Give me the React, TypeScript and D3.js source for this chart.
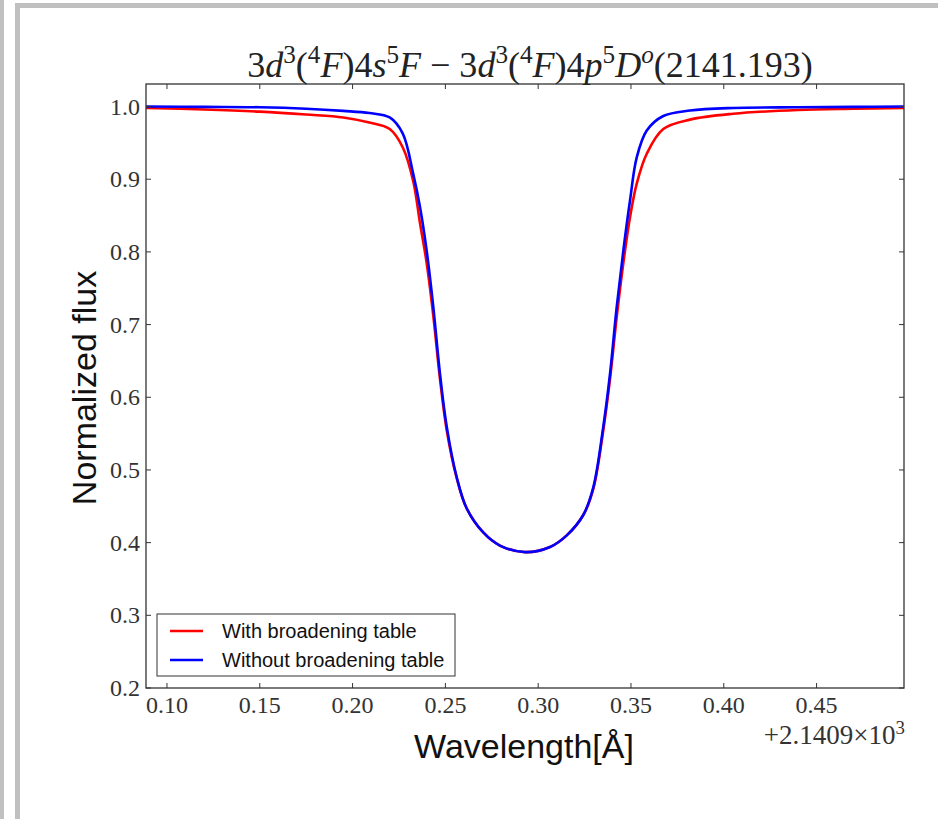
import React from "react";
import * as d3 from "d3";

const wavelength = [
  0.0887, 0.12, 0.15, 0.175, 0.195, 0.209, 0.22, 0.227, 0.2327, 0.2363, 0.2399, 0.2435, 0.2471,
  0.2507, 0.2561, 0.2615, 0.2704, 0.2794, 0.2929, 0.3064, 0.3154, 0.3243, 0.3297, 0.3351, 0.3387,
  0.3423, 0.3459, 0.3495, 0.3531, 0.3585, 0.3674, 0.3818, 0.405, 0.44, 0.47, 0.4971,
];
const fluxWith = [
  0.998, 0.996, 0.993, 0.989, 0.985, 0.978, 0.969, 0.944, 0.897, 0.84, 0.785, 0.712, 0.625,
  0.555, 0.489, 0.447, 0.414, 0.396, 0.387, 0.394, 0.41, 0.438, 0.474, 0.555, 0.625,
  0.71, 0.785, 0.848, 0.894, 0.935, 0.969, 0.982, 0.99, 0.9953, 0.997, 0.998,
];
const fluxWithout = [
  1.0, 0.9995, 0.999, 0.997, 0.994, 0.991, 0.985, 0.963, 0.907, 0.862, 0.802, 0.724, 0.632,
  0.56, 0.49, 0.447, 0.414, 0.396, 0.387, 0.394, 0.41, 0.438, 0.476, 0.56, 0.632,
  0.724, 0.802, 0.871, 0.93, 0.967, 0.987, 0.9945, 0.998, 0.999, 0.9995, 1.0,
];
const xTicks = [0.1, 0.15, 0.2, 0.25, 0.3, 0.35, 0.4, 0.45];
const yTicks = [0.2, 0.3, 0.4, 0.5, 0.6, 0.7, 0.8, 0.9, 1.0];
const seriesNames = ["With broadening table", "Without broadening table"];
const seriesColors = ["#ff0000", "#0000ff"];

type Seg = { t: string; it?: boolean; sup?: boolean };
const titleSegs: Seg[] = [
  { t: "3" }, { t: "d", it: true }, { t: "3", sup: true }, { t: "(" }, { t: "4", sup: true },
  { t: "F", it: true }, { t: ")4" }, { t: "s", it: true }, { t: "5", sup: true }, { t: "F", it: true },
  { t: " \u2212 3" }, { t: "d", it: true }, { t: "3", sup: true }, { t: "(" }, { t: "4", sup: true },
  { t: "F", it: true }, { t: ")4" }, { t: "p", it: true }, { t: "5", sup: true }, { t: "D", it: true },
  { t: "o", it: true, sup: true }, { t: "(2141.193)" },
];

const W = 938, H = 819;
const L = 146, R = 904, T = 84, B = 688;
const serif = "'Liberation Serif', 'DejaVu Serif', serif";
const sans = "'Liberation Sans', Arial, sans-serif";

function renderSegs(segs: Seg[], fs: number) {
  const out: React.ReactNode[] = [];
  let up = false;
  const shift = fs * 0.38;
  segs.forEach((s, i) => {
    let dy = 0;
    if (s.sup && !up) { dy = -shift; up = true; }
    else if (!s.sup && up) { dy = shift; up = false; }
    out.push(
      <tspan key={i} dy={dy} fontStyle={s.it ? "italic" : "normal"} fontSize={s.sup ? fs * 0.7 : fs}>
        {s.t}
      </tspan>
    );
  });
  return out;
}

export default function App() {
  const x = d3.scaleLinear().domain([0.0887, 0.4971]).range([L, R]);
  const y = d3.scaleLinear().domain([0.2, 1.031]).range([B, T]);
  const line = d3
    .line<[number, number]>()
    .x((d) => x(d[0]))
    .y((d) => y(d[1]))
    .curve(d3.curveCatmullRom.alpha(0.5));
  const series = [fluxWith, fluxWithout].map((f) => wavelength.map((w, i) => [w, f[i]] as [number, number]));
  const tickLen = 5;
  const fmt = d3.format(".2f");
  const fmtY = d3.format(".1f");
  const tfs = 24;

  return (
    <svg width={W} height={H} style={{ position: "absolute", left: 0, top: 0, background: "#fff" }}>
      <rect x={0} y={0} width={W} height={H} fill="#fff" />
      {/* outer card frame */}
      <rect x={0} y={0} width={4} height={H} fill="#c0c0c0" />
      <rect x={15} y={3} width={5} height={H} fill="#c0c0c0" />
      <rect x={15} y={3} width={W} height={5} fill="#c0c0c0" />

      <defs>
        <clipPath id="plotclip">
          <rect x={L} y={T} width={R - L} height={B - T} />
        </clipPath>
      </defs>

      <g clipPath="url(#plotclip)">
        {series.map((s, i) => (
          <path key={i} d={line(s) || ""} fill="none" stroke={seriesColors[i]} strokeWidth={2.6} strokeLinejoin="round" />
        ))}
      </g>

      {/* ticks */}
      {xTicks.map((t) => (
        <g key={"x" + t}>
          <line x1={x(t)} x2={x(t)} y1={B} y2={B - tickLen} stroke="#333" strokeWidth={1} />
          <line x1={x(t)} x2={x(t)} y1={T} y2={T + tickLen} stroke="#333" strokeWidth={1} />
          <text x={x(t)} y={713} textAnchor="middle" fontFamily={serif} fontSize={tfs} fill="#333">
            {fmt(t)}
          </text>
        </g>
      ))}
      {yTicks.map((t) => (
        <g key={"y" + t}>
          <line x1={L} x2={L + tickLen} y1={y(t)} y2={y(t)} stroke="#333" strokeWidth={1} />
          <line x1={R} x2={R - tickLen} y1={y(t)} y2={y(t)} stroke="#333" strokeWidth={1} />
          <text x={140} y={y(t) + 8} textAnchor="end" fontFamily={serif} fontSize={tfs} fill="#333">
            {fmtY(t)}
          </text>
        </g>
      ))}

      <rect x={L} y={T} width={R - L} height={B - T} fill="none" stroke="#333" strokeWidth={1.3} />

      {/* legend */}
      <g>
        <rect x={157} y={614} width={298} height={62} fill="#fff" stroke="#333" strokeWidth={1} />
        {seriesNames.map((n, i) => (
          <g key={n}>
            <line x1={170} x2={203} y1={631 + i * 29} y2={631 + i * 29} stroke={seriesColors[i]} strokeWidth={2.4} />
            <text x={222} y={638 + i * 29} fontFamily={sans} fontSize={20} fill="#111">
              {n}
            </text>
          </g>
        ))}
      </g>

      {/* title */}
      <text x={530} y={77} textAnchor="middle" fontFamily={serif} fontSize={36} fill="#222">
        {renderSegs(titleSegs, 36)}
      </text>

      {/* axis labels */}
      <text x={524} y={758} textAnchor="middle" fontFamily={sans} fontSize={34} fill="#111">
        Wavelength[Å]
      </text>
      <text
        transform={`translate(96, ${(T + B) / 2 + 2}) rotate(-90)`}
        textAnchor="middle"
        fontFamily={sans}
        fontSize={34}
        fill="#111"
      >
        Normalized flux
      </text>

      {/* offset text */}
      <text x={905} y={744} textAnchor="end" fontFamily={serif} fontSize={27} fill="#333">
        {renderSegs([{ t: "+2.1409\u00d710" }, { t: "3", sup: true }], 27)}
      </text>
    </svg>
  );
}
